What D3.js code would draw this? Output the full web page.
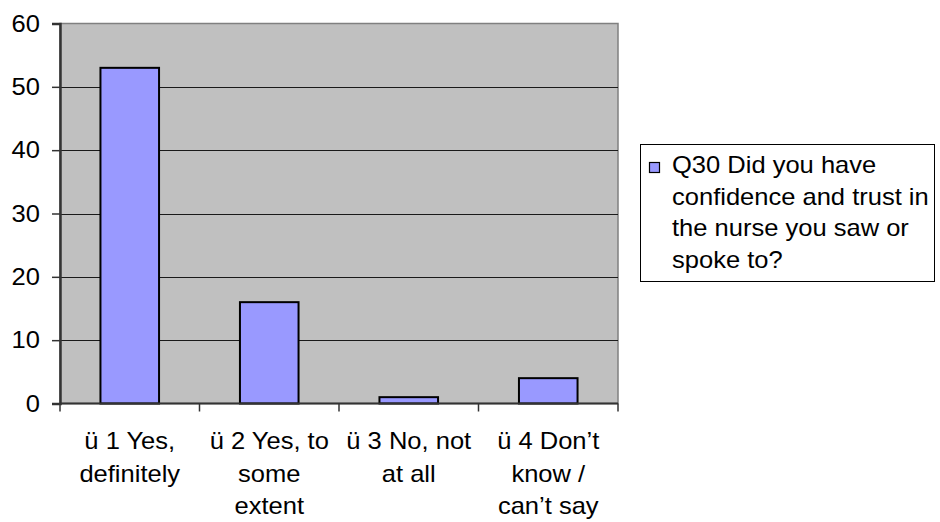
<!DOCTYPE html>
<html>
<head>
<meta charset="utf-8">
<script src="https://cdn.jsdelivr.net/npm/d3@7"></script>
<style>
  html, body { margin: 0; padding: 0; background: #fff; }
  svg { display: block; }
  text { font-family: "Liberation Sans", Arial, sans-serif; fill: #000; }
</style>
</head>
<body>
<svg id="chart" width="940" height="522"></svg>
<script>
const categories = ["ü 1 Yes, definitely", "ü 2 Yes, to some extent", "ü 3 No, not at all", "ü 4 Don’t know / can’t say"];
const categoryLines = [
  ["ü 1 Yes,", "definitely"],
  ["ü 2 Yes, to", "some", "extent"],
  ["ü 3 No, not", "at all"],
  ["ü 4 Don’t", "know /", "can’t say"]
];
const values = [53, 16, 1, 4];
const seriesName = "Q30 Did you have confidence and trust in the nurse you saw or spoke to?";
const legendLines = ["Q30 Did you have", "confidence and trust in", "the nurse you saw or", "spoke to?"];
const yTicks = [0, 10, 20, 30, 40, 50, 60];

const fontSize = 23, sx = 1.11;
const plot = { left: 60, right: 618, top: 23.5, bottom: 403.5 };
const svg = d3.select("#chart");

const x = d3.scaleBand().domain(categories).range([plot.left, plot.right]).paddingInner(0.58).paddingOuter(0.29);
const xOuter = d3.scaleBand().domain(categories).range([plot.left, plot.right]);
const y = d3.scaleLinear().domain([0, 60]).range([plot.bottom, plot.top]);

// plot background
svg.append("rect")
  .attr("x", plot.left).attr("y", plot.top)
  .attr("width", plot.right - plot.left).attr("height", plot.bottom - plot.top)
  .attr("fill", "#c0c0c0").attr("stroke", "#808080").attr("stroke-width", 1.5);

// gridlines
svg.append("g").selectAll("line").data(yTicks.filter(d => d > 0 && d < 60)).join("line")
  .attr("x1", plot.left).attr("x2", plot.right)
  .attr("y1", d => Math.round(y(d)) + 0.5).attr("y2", d => Math.round(y(d)) + 0.5)
  .attr("stroke", "#1a1a1a").attr("stroke-width", 1);

// bars
svg.append("g").selectAll("rect").data(values).join("rect")
  .attr("x", (d, i) => x(categories[i]))
  .attr("y", d => y(d))
  .attr("width", x.bandwidth())
  .attr("height", d => y(0) - y(d))
  .attr("fill", "#9999ff").attr("stroke", "#000").attr("stroke-width", 2);

// y axis
const yAxis = d3.axisLeft(y).tickValues(yTicks).tickSize(8).tickFormat("");
const gy = svg.append("g").attr("transform", `translate(${plot.left},0)`).call(yAxis);
gy.select(".domain").attr("stroke", "#333").attr("stroke-width", 2.5);
gy.selectAll(".tick line").attr("stroke", "#333").attr("stroke-width", 1.5);

svg.append("g").selectAll("text").data(yTicks).join("text")
  .attr("transform", d => `translate(40,${y(d) + 8}) scale(${sx},1)`)
  .attr("text-anchor", "end")
  .attr("font-size", fontSize)
  .text(d => d);

// x axis
const xTickPos = categories.map(c => xOuter(c)).concat([plot.right]);
const gx = svg.append("g");
gx.append("line").attr("x1", plot.left).attr("x2", plot.right)
  .attr("y1", y(0)).attr("y2", y(0)).attr("stroke", "#333").attr("stroke-width", 2);
gx.selectAll("line.tk").data(xTickPos).join("line").attr("class", "tk")
  .attr("x1", d => d).attr("x2", d => d)
  .attr("y1", y(0)).attr("y2", y(0) + 8)
  .attr("stroke", "#333").attr("stroke-width", 1.5);

const labelG = svg.append("g");
categories.forEach((c, i) => {
  const cx = xOuter(c) + xOuter.bandwidth() / 2;
  categoryLines[i].forEach((ln, j) => {
    labelG.append("text")
      .attr("transform", `translate(${cx},${449 + j * 32.5}) scale(${sx},1)`)
      .attr("text-anchor", "middle")
      .attr("font-size", fontSize)
      .text(ln);
  });
});

// legend
const lg = svg.append("g").attr("aria-label", seriesName);
lg.append("rect").attr("x", 640.5).attr("y", 144.5).attr("width", 294).attr("height", 137)
  .attr("fill", "#fff").attr("stroke", "#000").attr("stroke-width", 1);
lg.append("rect").attr("x", 649.5).attr("y", 162.5).attr("width", 10).attr("height", 10)
  .attr("fill", "#9999ff").attr("stroke", "#000").attr("stroke-width", 1.2);
legendLines.forEach((ln, j) => {
  lg.append("text")
    .attr("transform", `translate(672,${173 + j * 31.7}) scale(${sx},1)`)
    .attr("font-size", fontSize)
    .text(ln);
});
</script>
</body>
</html>
